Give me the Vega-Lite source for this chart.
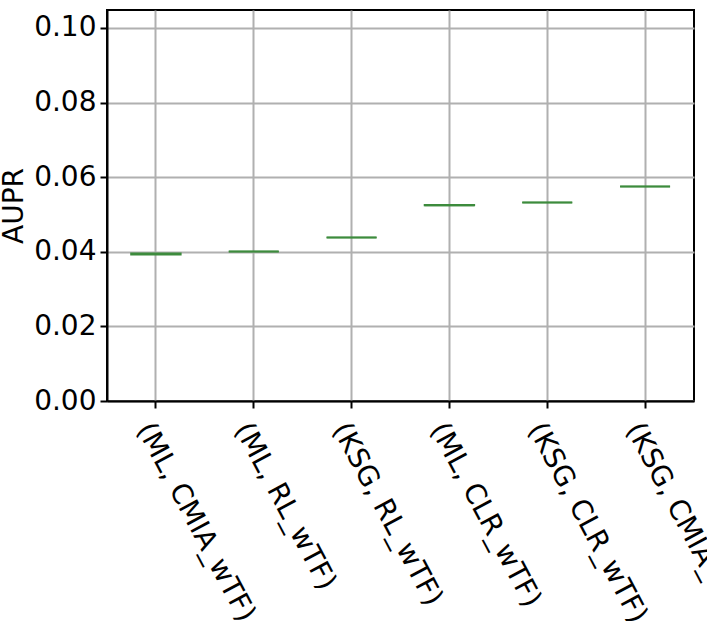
{
  "$schema": "https://vega.github.io/schema/vega-lite/v6.json",
  "autosize": {"type": "none"},
  "padding": {"left": 107, "top": 10, "right": 13, "bottom": 231},
  "width": 587,
  "height": 391,
  "background": "white",
  "config": {
    "view": {"stroke": "black", "strokeWidth": 2},
    "font": "DejaVu Sans",
    "axis": {
      "labelFont": "DejaVu Sans",
      "titleFont": "DejaVu Sans",
      "labelFontSize": 28,
      "titleFontSize": 28,
      "titleFontWeight": "normal",
      "labelColor": "black",
      "titleColor": "black",
      "domainColor": "black",
      "domainWidth": 2,
      "tickColor": "black",
      "tickWidth": 2,
      "tickSize": 7,
      "gridColor": "#b0b0b0",
      "gridWidth": 2,
      "gridOpacity": 1
    }
  },
  "data": {
    "values": [
      {"method": "(ML, CMIA_wTF)", "q1": 0.0392, "median": 0.0394, "q3": 0.0396},
      {"method": "(ML, RL_wTF)", "q1": 0.0401, "median": 0.0401, "q3": 0.0401},
      {"method": "(KSG, RL_wTF)", "q1": 0.0438, "median": 0.0438, "q3": 0.0438},
      {"method": "(ML, CLR_wTF)", "q1": 0.0524, "median": 0.0525, "q3": 0.0526},
      {"method": "(KSG, CLR_wTF)", "q1": 0.0532, "median": 0.0532, "q3": 0.0532},
      {"method": "(KSG, CMIA_wTF)", "q1": 0.0575, "median": 0.0575, "q3": 0.0575}
    ]
  },
  "encoding": {
    "x": {
      "field": "method",
      "type": "nominal",
      "sort": null,
      "scale": {"paddingInner": 0, "paddingOuter": 0},
      "axis": {
        "title": null,
        "grid": true,
        "labelAngle": 62,
        "labelAlign": "left",
        "labelBaseline": "top",
        "labelPadding": 10,
        "labelLimit": 0
      }
    }
  },
  "layer": [
    {
      "mark": {"type": "bar", "width": {"band": 0.51}, "fill": null, "stroke": "#3d8b3d", "strokeWidth": 1.5},
      "encoding": {
        "y": {
          "field": "q1",
          "type": "quantitative",
          "scale": {"domain": [0, 0.1048], "nice": false, "zero": true},
          "axis": {
            "title": "AUPR",
            "values": [0, 0.02, 0.04, 0.06, 0.08, 0.1],
            "format": ".2f",
            "grid": true,
            "labelPadding": 4,
            "titlePadding": 5
          }
        },
        "y2": {"field": "q3"}
      }
    },
    {
      "mark": {"type": "tick", "color": "#3d8b3d", "thickness": 2, "size": 50, "opacity": 1},
      "encoding": {
        "y": {"field": "median", "type": "quantitative"}
      }
    }
  ]
}
